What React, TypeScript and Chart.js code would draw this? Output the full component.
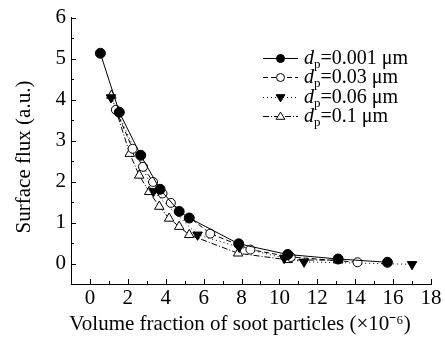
import React, { useEffect, useRef } from "react";
import { Chart, registerables } from "chart.js";

Chart.register(...registerables);

const FONT = '"Liberation Serif", "Times New Roman", serif';

const xTicks = [0, 2, 4, 6, 8, 10, 12, 14, 16, 18];
const yTicks = [0, 1, 2, 3, 4, 5, 6];
const xMinorTicks = [-1, 1, 3, 5, 7, 9, 11, 13, 15, 17];
const yMinorTicks = [-0.5, 0.5, 1.5, 2.5, 3.5, 4.5, 5.5];

const s1X = [0.55, 1.55, 2.68, 3.7, 4.71, 5.24, 7.85, 10.44, 13.1, 15.7];
const s1Y = [5.13, 3.69, 2.64, 1.81, 1.27, 1.11, 0.48, 0.22, 0.11, 0.03];

const s2X = [1.37, 2.25, 2.8, 3.33, 3.83, 4.27, 6.35, 8.47, 10.6, 14.12];
const s2Y = [3.75, 2.8, 2.36, 1.99, 1.71, 1.48, 0.73, 0.34, 0.16, 0.03];

const s3X = [1.11, 3.35, 5.68, 7.88, 10.25, 11.3, 17.0];
const s3Y = [4.05, 1.76, 0.7, 0.4, 0.13, 0.04, -0.02];

const s4X = [1.13, 2.1, 2.6, 3.13, 3.66, 4.18, 4.71, 5.24, 7.82, 10.44, 13.1];
const s4Y = [4.1, 2.68, 2.15, 1.75, 1.39, 1.1, 0.9, 0.7, 0.25, 0.09, 0.08];

const seriesSizes = ["0.001", "0.03", "0.06", "0.1"];
const seriesDashes = [[], [5, 3], [1, 3], [6, 2, 1, 2]];

const xTitle = "Volume fraction of soot particles (\u00d710\u207b\u2076)";
const yTitle = "Surface flux (a.u.)";

const toPts = (xs: number[], ys: number[]) => xs.map((x, i) => ({ x, y: ys[i] }));

function drawMarker(ctx: CanvasRenderingContext2D, idx: number, x: number, y: number, r: number) {
  ctx.save();
  ctx.setLineDash([]);
  ctx.lineWidth = 1;
  ctx.strokeStyle = "#000";
  ctx.beginPath();
  if (idx === 0 || idx === 1) {
    ctx.arc(x, y, r, 0, Math.PI * 2);
  } else if (idx === 2) {
    ctx.moveTo(x - r * 1.1, y - r * 0.7);
    ctx.lineTo(x + r * 1.1, y - r * 0.7);
    ctx.lineTo(x, y + r * 1.1);
    ctx.closePath();
  } else {
    ctx.moveTo(x - r * 1.1, y + r * 0.7);
    ctx.lineTo(x + r * 1.1, y + r * 0.7);
    ctx.lineTo(x, y - r * 1.1);
    ctx.closePath();
  }
  ctx.fillStyle = idx === 0 || idx === 2 ? "#000" : "#fff";
  ctx.fill();
  ctx.stroke();
  ctx.restore();
}

const decorPlugin = {
  id: "decor",
  afterDraw(chart: any) {
    const ctx: CanvasRenderingContext2D = chart.ctx;
    const xs = chart.scales.x;
    const ys = chart.scales.y;
    const area = chart.chartArea;
    ctx.save();
    ctx.strokeStyle = "#000";
    ctx.lineWidth = 1;
    const xt = (vals: number[], len: number) => {
      vals.forEach((v) => {
        const px = Math.round(xs.getPixelForValue(v)) + 0.5;
        ctx.beginPath();
        ctx.moveTo(px, area.bottom);
        ctx.lineTo(px, area.bottom - len);
        ctx.stroke();
      });
    };
    const yt = (vals: number[], len: number) => {
      vals.forEach((v) => {
        const py = Math.round(ys.getPixelForValue(v)) + 0.5;
        ctx.beginPath();
        ctx.moveTo(area.left, py);
        ctx.lineTo(area.left + len, py);
        ctx.stroke();
      });
    };
    xt(xTicks, 5);
    xt(xMinorTicks, 3);
    yt(yTicks, 5);
    yt(yMinorTicks, 3);

    // axis titles
    ctx.fillStyle = "#000";
    ctx.font = `21px ${FONT}`;
    ctx.textAlign = "center";
    ctx.textBaseline = "alphabetic";
    ctx.fillText(xTitle, (area.left + area.right) / 2 - 11, 330);
    ctx.save();
    ctx.translate(30, 157);
    ctx.rotate(-Math.PI / 2);
    ctx.fillText(yTitle, 0, 0);
    ctx.restore();

    // legend
    const rowY = [58, 77, 97, 116];
    seriesSizes.forEach((s, i) => {
      const y = rowY[i];
      ctx.save();
      ctx.setLineDash(seriesDashes[i]);
      ctx.beginPath();
      ctx.moveTo(263, y + 0.5);
      ctx.lineTo(298, y + 0.5);
      ctx.stroke();
      ctx.restore();
      drawMarker(ctx, i, 280.5, y + 0.5, 4);
      ctx.textAlign = "left";
      ctx.textBaseline = "alphabetic";
      let tx = 304;
      const base = y + 6;
      ctx.font = `italic 20px ${FONT}`;
      ctx.fillText("d", tx, base);
      tx += ctx.measureText("d").width;
      ctx.font = `13px ${FONT}`;
      ctx.fillText("p", tx, base + 4);
      tx += ctx.measureText("p").width;
      ctx.font = `20px ${FONT}`;
      ctx.fillText("=" + s + " \u03bcm", tx, base);
    });
    ctx.restore();
  },
};

export default function App() {
  const ref = useRef<HTMLCanvasElement | null>(null);
  useEffect(() => {
    if (!ref.current) return;
    const mk = (i: number, xs: number[], ys: number[]) => ({
      label: "dp=" + seriesSizes[i] + " \u03bcm",
      data: toPts(xs, ys),
      showLine: true,
      borderColor: "#000",
      borderWidth: 1,
      borderDash: seriesDashes[i],
      tension: 0,
      pointStyle: i < 2 ? "circle" : "triangle",
      pointRotation: i === 2 ? 180 : 0,
      pointRadius: i === 0 ? 5 : i === 1 ? 4.5 : 5.5,
      pointBorderWidth: 1,
      pointBorderColor: "#000",
      pointBackgroundColor: i === 0 || i === 2 ? "#000" : "#fff",
    });
    const chart = new Chart(ref.current, {
      type: "scatter",
      data: {
        datasets: [
          mk(0, s1X, s1Y),
          mk(1, s2X, s2Y),
          mk(2, s3X, s3Y),
          mk(3, s4X, s4Y),
        ],
      },
      options: {
        animation: false,
        responsive: false,
        devicePixelRatio: 1,
        layout: { padding: { top: 16, right: 14, left: 0, bottom: 0 } },
        plugins: { legend: { display: false }, tooltip: { enabled: false } },
        scales: {
          x: {
            type: "linear",
            min: -1,
            max: 18,
            afterBuildTicks: (s: any) => {
              s.ticks = xTicks.map((v) => ({ value: v }));
            },
            afterFit: (s: any) => {
              s.height = 56;
            },
            ticks: { color: "#000", font: { family: FONT, size: 21 }, padding: 2, maxRotation: 0 },
            grid: { display: false, drawTicks: false, tickLength: 0 },
            border: { display: true, color: "#000", width: 1 },
          },
          y: {
            type: "linear",
            min: -0.5,
            max: 6,
            afterBuildTicks: (s: any) => {
              s.ticks = yTicks.map((v) => ({ value: v }));
            },
            afterFit: (s: any) => {
              s.width = 71;
            },
            ticks: { color: "#000", font: { family: FONT, size: 21 }, padding: 5 },
            grid: { display: false, drawTicks: false, tickLength: 0 },
            border: { display: true, color: "#000", width: 1 },
          },
        },
      } as any,
      plugins: [decorPlugin],
    });
    return () => chart.destroy();
  }, []);
  return (
    <div style={{ position: "fixed", left: 0, top: 0, width: 445, height: 340, background: "#fff" }}>
      <canvas ref={ref} width={445} height={340} style={{ width: 445, height: 340 }} />
    </div>
  );
}
